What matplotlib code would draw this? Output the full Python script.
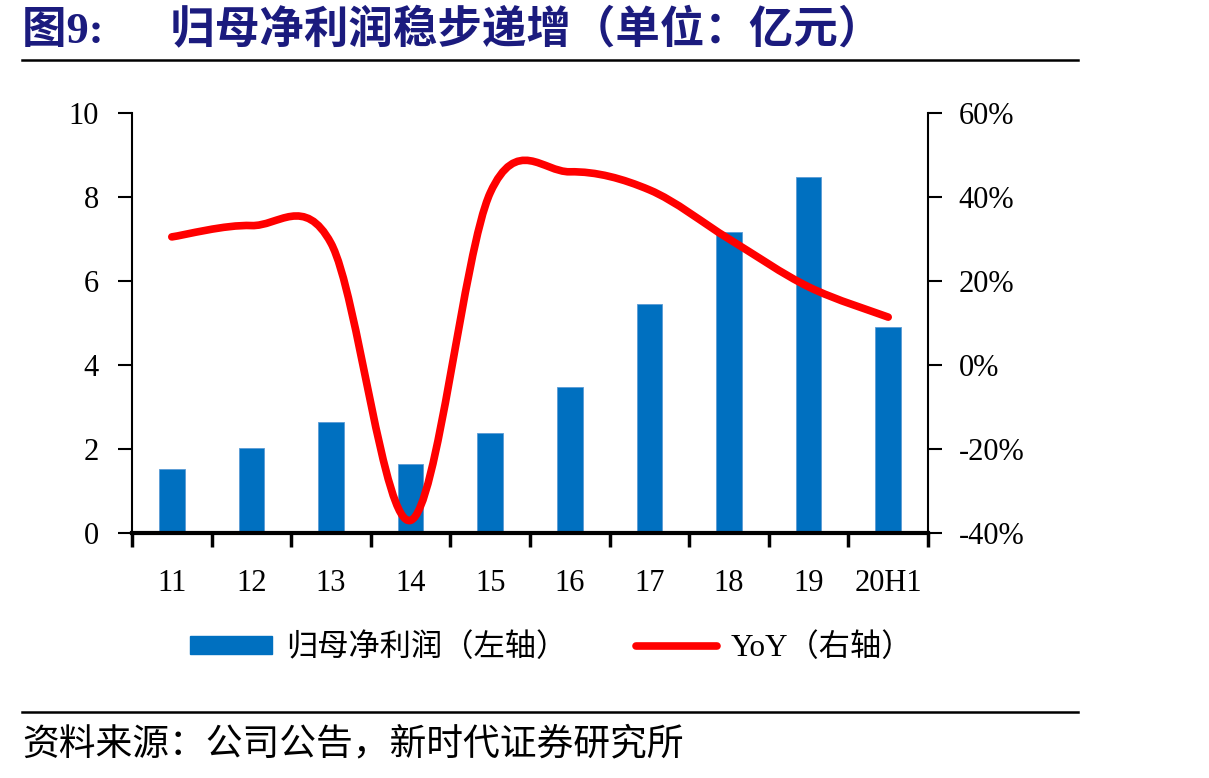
import matplotlib
matplotlib.use('Agg')
import matplotlib.pyplot as plt
from matplotlib.path import Path
from matplotlib.patches import PathPatch
from matplotlib.lines import Line2D
from matplotlib.ticker import FuncFormatter
import numpy as np

plt.rcParams['font.family'] = ['Liberation Serif', 'Noto Sans CJK SC']
plt.rcParams['axes.unicode_minus'] = False

# data
years = ['11', '12', '13', '14', '15', '16', '17', '18', '19', '20H1']
profit = [1.52, 2.02, 2.64, 1.64, 2.38, 3.48, 5.45, 7.16, 8.48, 4.90]
yoy = [30.5, 33.2, 29.0, -37.0, 41.0, 46.0, 41.7, 30.0, 18.6, 11.4]

BLUE = '#0070C0'
RED = '#FF0000'
NAVY = '#1B1B7E'

W, H = 1209, 778
fig = plt.figure(figsize=(W / 100, H / 100), dpi=100)

# axes box in pixels: x 132..928, y 113..533
ax = fig.add_axes([132 / W, 1 - 533 / H, (928 - 132) / W, (533 - 113) / H])
x = np.arange(len(years))
ax.bar(x, profit, width=0.32, color=BLUE, edgecolor='#5B9BD5', linewidth=0.6, zorder=2)
ax.set_xlim(-0.5, len(years) - 0.5)
ax.set_ylim(0, 10)
ax.set_yticks([0, 2, 4, 6, 8, 10])

# x ticks on category borders, labels in the middle
ax.set_xticks(np.arange(-0.5, len(years), 1.0))
ax.set_xticklabels([])
ax.set_xticks(x, minor=True)
ax.set_xticklabels(years, minor=True)
ax.tick_params(axis='x', which='major', direction='out', length=10, width=2.5)
ax.tick_params(axis='x', which='minor', length=0, pad=26, labelsize=22)
ax.tick_params(axis='y', direction='out', length=10, width=1.5, pad=14, labelsize=22)

for s in ['top', 'right']:
    ax.spines[s].set_visible(False)
ax.spines['left'].set_linewidth(1.5)
ax.spines['bottom'].set_linewidth(3)
ax.spines['bottom'].set_zorder(5)

ax2 = ax.twinx()
ax2.set_ylim(-40, 60)
ax2.set_yticks([-40, -20, 0, 20, 40, 60])
ax2.yaxis.set_major_formatter(FuncFormatter(lambda v, p: f'{v:.0f}%'))
ax2.tick_params(axis='y', direction='out', length=10, width=1.5, pad=12, labelsize=22)
for s in ['top', 'left', 'bottom']:
    ax2.spines[s].set_visible(False)
ax2.spines['right'].set_linewidth(1.5)

# smoothed line (Catmull-Rom style bezier like Excel)
pts = np.column_stack([x, yoy]).astype(float)
verts = [tuple(pts[0])]
codes = [Path.MOVETO]
n = len(pts)
for i in range(n - 1):
    p0 = pts[i - 1] if i > 0 else pts[i]
    p1 = pts[i]
    p2 = pts[i + 1]
    p3 = pts[i + 2] if i + 2 < n else pts[i + 1]
    c1 = p1 + (p2 - p0) / 6
    c2 = p2 - (p3 - p1) / 6
    verts += [tuple(c1), tuple(c2), tuple(p2)]
    codes += [Path.CURVE4] * 3
curve = PathPatch(Path(verts, codes), facecolor='none', edgecolor=RED,
                  linewidth=5.5, capstyle='round', joinstyle='round', zorder=3)
ax2.add_patch(curve)

# legend
handles = [plt.Rectangle((0, 0), 1, 1, facecolor=BLUE, edgecolor=BLUE),
           Line2D([0], [0], color=RED, linewidth=5.5, solid_capstyle='round')]
labels = ['归母净利润（左轴）', 'YoY（右轴）']
fig.legend(handles, labels, loc='center', bbox_to_anchor=(552 / W, 1 - 648 / H),
           ncol=2, frameon=False, fontsize=22.5, handlelength=2.6, handleheight=0.5,
           handletextpad=0.45, columnspacing=2.2)

# title, rules and source
fig.text(22 / W, 1 - 31 / H, '图9:      归母净利润稳步递增（单位：亿元）', fontsize=32,
         fontweight='bold', color=NAVY, ha='left', va='center')
fig.add_artist(Line2D([22 / W, 1078 / W], [1 - 60 / H] * 2, color='black', linewidth=1.8))
fig.add_artist(Line2D([22 / W, 1078 / W], [1 - 712 / H] * 2, color='black', linewidth=1.8))
fig.text(22 / W, 1 - 745 / H, '资料来源：公司公告，新时代证券研究所', fontsize=26.5,
         ha='left', va='center')

fig.savefig('out.png', dpi=100)
